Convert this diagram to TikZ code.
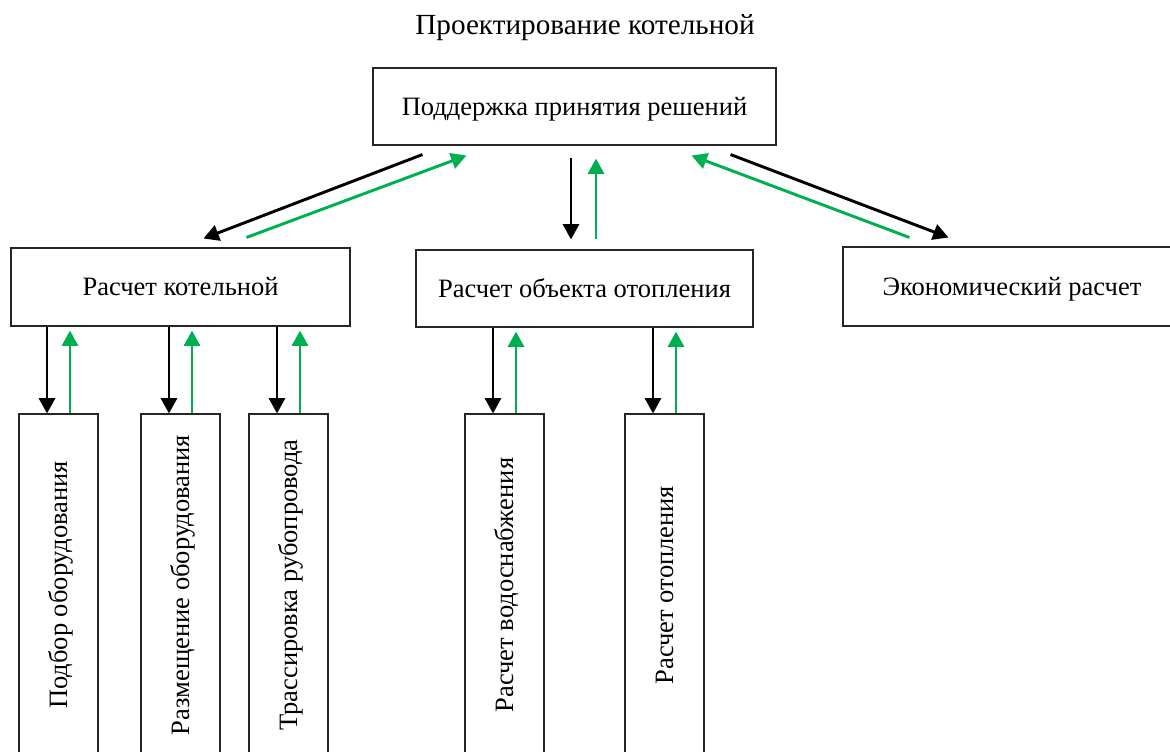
\documentclass[tikz,border=0pt]{standalone}
\usepackage{fontspec}
\setmainfont{Liberation Serif}
\usetikzlibrary{arrows.meta}
\definecolor{arrgreen}{RGB}{0,176,80}
\def\u{0.75pt}
\tikzset{
  box/.style 2 args={draw=black!85, line width=0.8pt, minimum width=#1*\u, minimum height=#2*\u, inner sep=0pt, text height=13.1pt, text depth=0pt},
  tall/.style={box={342}{79}, rotate=90},
  blk/.style={draw=black, line width=2.2pt, -{Triangle[length=11.5pt,width=12pt]}},
  grn/.style={draw=arrgreen, line width=2.2pt, -{Triangle[length=11.5pt,width=12pt]}}
}
\begin{document}
\begin{tikzpicture}[x=\u, y=-\u, font=\fontsize{19.9}{24}\selectfont]
\useasboundingbox (0,0) rectangle (1170,751);
\clip (0,0) rectangle (1170,751);

\node[anchor=base, font=\fontsize{21.9}{26}\selectfont] (title) at (585,34) {Проектирование котельной};

\node[box={403}{77}] (top) at (574.5,106.5) {Поддержка принятия решений};
\node[box={339}{78}] (kot) at (180.5,287) {Расчет котельной};
\node[box={337}{77}] (otop) at (584.5,288.5) {Расчет объекта отопления};
\node[box={338}{79}] (econ) at (1012,286.5) {Экономический расчет};

\node[tall] (b1) at (58.5,585) {Подбор оборудования};
\node[tall] (b2) at (180.5,585) {Размещение оборудования};
\node[tall] (b3) at (288.5,585) {Трассировка рубопровода};
\node[tall] (b4) at (504.5,585) {Расчет водоснабжения};
\node[tall] (b5) at (664.5,585) {Расчет отопления};

\draw[blk] ([shift={(50,9)}]top.south west) -- ([shift={(193,-9)}]kot.north west);
\draw[grn] ([shift={(236,-10)}]kot.north west) -- ([shift={(94,10)}]top.south west);
\draw[blk] ([shift={(-3.5,12)}]top.south) -- ([shift={(-13.5,-10)}]otop.north);
\draw[grn] ([shift={(11.5,-10)}]otop.north) -- ([shift={(21.5,13)}]top.south);
\draw[blk] ([shift={(-46,9)}]top.south east) -- ([shift={(106,-9)}]econ.north west);
\draw[grn] ([shift={(67,-9)}]econ.north west) -- ([shift={(-85,10)}]top.south east);

\foreach \c/\p in {b1/kot, b2/kot, b3/kot, b4/otop, b5/otop} {
  \coordinate (\c-k) at ([shift={(-11.5,0)}]\c.east);
  \coordinate (\c-g) at ([shift={(11.5,0)}]\c.east);
  \draw[blk] (\c-k |- \p.south) -- (\c-k);
  \draw[grn, shorten >=3pt] (\c-g) -- (\c-g |- \p.south);
}
\end{tikzpicture}
\end{document}
